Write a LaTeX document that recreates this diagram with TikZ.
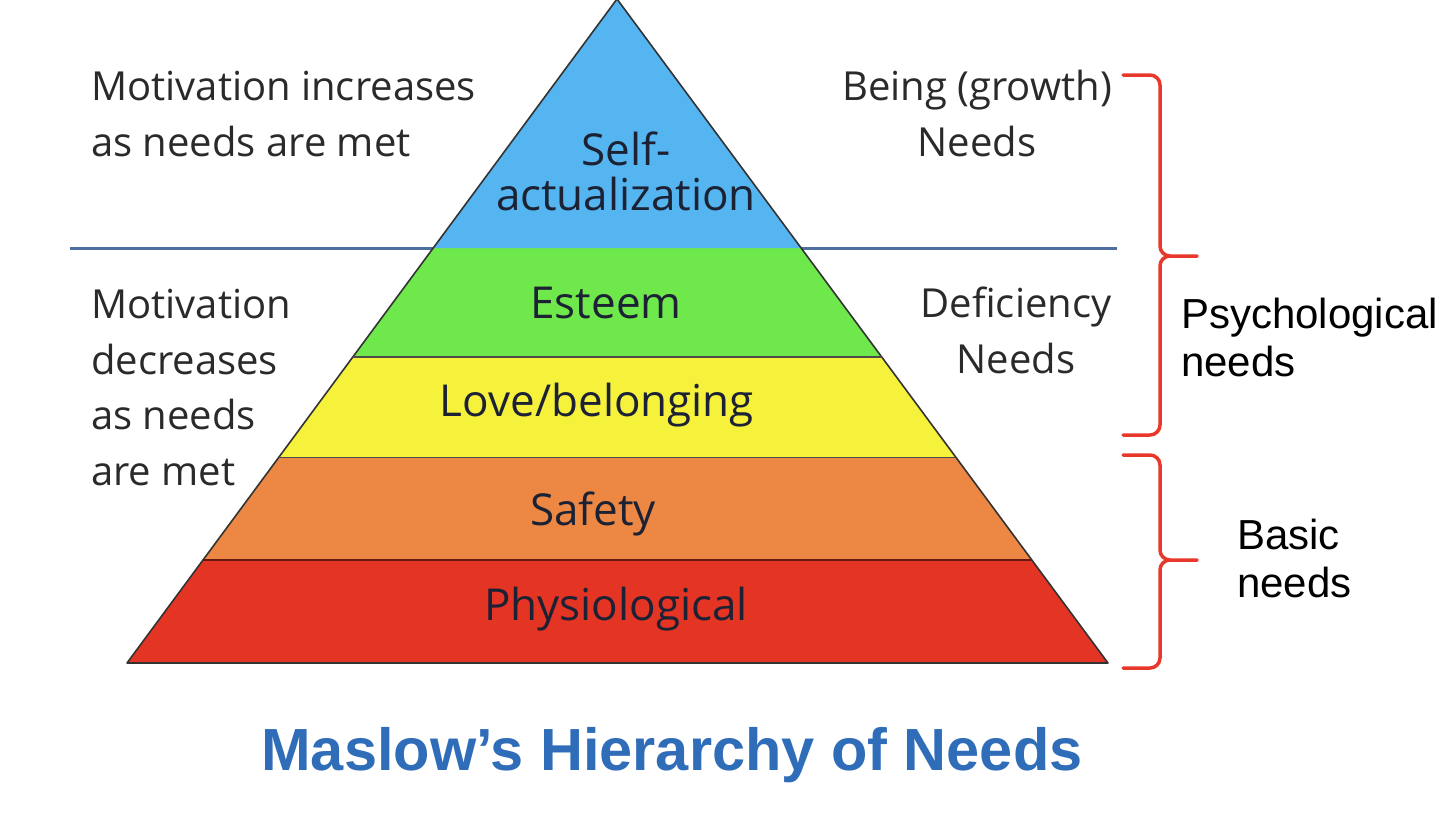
\documentclass[tikz,border=0pt]{standalone}
\usepackage{fontspec}
\usetikzlibrary{calc}
\newfontfamily\pyrfont{Open Sans}
\newfontfamily\notefont{Liberation Sans}
\definecolor{selfblue}{HTML}{55B5F0}
\definecolor{esteemgreen}{HTML}{6FE84C}
\definecolor{loveyellow}{HTML}{F6F23C}
\definecolor{safetyorange}{HTML}{EC8843}
\definecolor{physred}{HTML}{E33424}
\definecolor{dividerblue}{HTML}{4F6FA0}
\definecolor{bracered}{HTML}{E8382B}
\definecolor{titleblue}{HTML}{2F6DB9}
\definecolor{layertext}{HTML}{1C2134}
\definecolor{sidetext}{HTML}{2A2A2A}
\tikzset{
  layer/.style={draw=black!80, line width=1.6pt, line join=round},
  layerlabel/.style={text=layertext, font=\pyrfont\fontsize{44}{45}\selectfont, inner sep=0pt, align=center},
  sidenote/.style={text=sidetext, font=\pyrfont\fontsize{40}{55.5}\selectfont, inner sep=0pt},
  groupnote/.style={text=black, font=\notefont\fontsize{42}{48}\selectfont, inner sep=0pt, align=left, anchor=base west},
  redbrace/.style={draw=bracered, line width=3.5pt, line join=round, line cap=round},
}
\begin{document}
\begin{tikzpicture}[x=1pt,y=-1pt]
\useasboundingbox (0,0) rectangle (1444,814);
% pyramid corners
\coordinate (A) at (617,-1);
\coordinate (BL) at (127,663);
\coordinate (BR) at (1108,663);
% level boundaries along the two slanted edges
\foreach \n/\t in {1/0.375,2/0.539,3/0.690,4/0.845}{
  \coordinate (L\n) at ($(A)!\t!(BL)$);
  \coordinate (R\n) at ($(A)!\t!(BR)$);
}
% divider between growth and deficiency needs
\draw[dividerblue, line width=3pt] (70,248) -- (1117,248);
% the five levels
\fill[physred]      (L4) -- (R4) -- (BR) -- (BL) -- cycle;
\fill[safetyorange] (L3) -- (R3) -- (R4) -- (L4) -- cycle;
\fill[loveyellow]   (L2) -- (R2) -- (R3) -- (L3) -- cycle;
\fill[esteemgreen]  (L1) -- (R1) -- (R2) -- (L2) -- cycle;
\fill[selfblue]     (A) -- (R1) -- (L1) -- cycle;
\draw[layer] (A) -- (BR) -- (BL) -- cycle;
\draw[black!70, line width=1.3pt] (L2) -- (R2) (L3) -- (R3);
\draw[black!55!physred, line width=2pt] (L4) -- (R4);
% level labels (a multi-line node sits on its last baseline)
\node[layerlabel, anchor=base] (self) at (626,210) {Self-\\actualization};
\node[layerlabel, anchor=base] (esteem) at (606,318) {Esteem};
\node[layerlabel, anchor=base] (love) at (597,416) {Love/belonging};
\node[layerlabel, anchor=base] (safety) at (593,525) {Safety};
\node[layerlabel, anchor=base] (phys) at (616,620) {Physiological};
% notes beside the pyramid
\node[sidenote, align=left, anchor=base west] (inc) at (91,156) {Motivation increases\\as needs are met};
\node[sidenote, align=left, anchor=base west] (dec) at (91,485) {Motivation\\decreases\\as needs\\are met};
\node[sidenote, align=center, anchor=base] (being) at (977,156) {Being (growth)\\Needs};
\node[sidenote, align=center, anchor=base] (defic) at (1016,373) {Deficiency\\Needs};
% braces grouping the levels
\draw[redbrace] (1123,75) -- (1150,75) to[out=0,in=90] (1160,85) -- (1160,246)
  to[out=-90,in=180] (1170,256) -- (1197,256);
\draw[redbrace] (1170,256) to[out=180,in=90] (1160,266) -- (1160,425)
  to[out=-90,in=0] (1150,435) -- (1123,435);
\draw[redbrace] (1123,455) -- (1150,455) to[out=0,in=90] (1160,465) -- (1160,550)
  to[out=-90,in=180] (1170,560) -- (1197,560);
\draw[redbrace] (1170,560) to[out=180,in=90] (1160,570) -- (1160,658)
  to[out=-90,in=0] (1150,668) -- (1123,668);
\node[groupnote] (psych) at (1181,376) {Psychological\\needs};
\node[groupnote] (basic) at (1237,597) {Basic\\needs};
% title
\node[text=titleblue, font=\notefont\bfseries\fontsize{59.5}{64}\selectfont, inner sep=0pt, anchor=base] (title) at (672,770) {Maslow’s Hierarchy of Needs};
\end{tikzpicture}
\end{document}
